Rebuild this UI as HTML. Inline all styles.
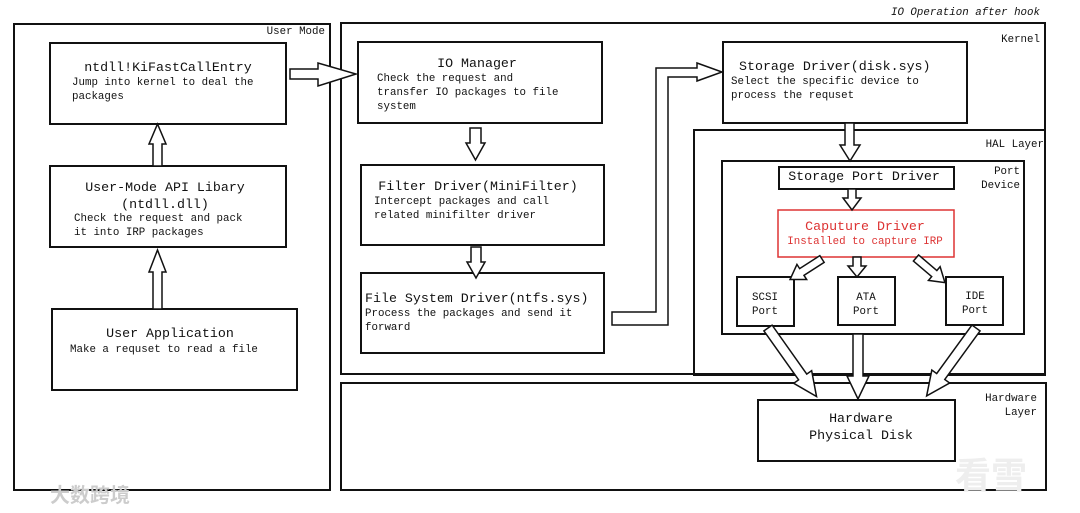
<!DOCTYPE html>
<html><head><meta charset="utf-8"><style>
html,body{margin:0;padding:0;background:#fff;}
svg{display:block;}
text{font-family:"Liberation Mono","DejaVu Sans Mono",monospace;fill:#111;}
.t{font-size:13.3px;}
.d{font-size:10.8px;}
</style></head><body>
<svg width="1080" height="513" viewBox="0 0 1080 513" xmlns="http://www.w3.org/2000/svg">
<g fill="none" stroke="#111" stroke-width="2">
<rect x="14" y="24" width="316" height="466"/>
<rect x="341" y="23" width="704" height="351"/>
<rect x="694" y="130" width="351" height="245"/>
<rect x="722" y="161" width="302" height="173"/>
<rect x="341" y="383" width="705" height="107"/>
<rect x="50" y="43" width="236" height="81"/>
<rect x="50" y="166" width="236" height="81"/>
<rect x="52" y="309" width="245" height="81"/>
<rect x="358" y="42" width="244" height="81"/>
<rect x="361" y="165" width="243" height="80"/>
<rect x="361" y="273" width="243" height="80"/>
<rect x="723" y="42" width="244" height="81"/>
<rect x="779" y="167" width="175" height="22"/>
<rect x="737" y="277" width="57" height="49"/>
<rect x="838" y="277" width="57" height="48"/>
<rect x="946" y="277" width="57" height="48"/>
<rect x="758" y="400" width="197" height="61"/>
</g>
<rect x="778" y="210" width="176" height="47" fill="none" stroke="#d33" stroke-width="1.5"/>
<g fill="#fff" stroke="#111" stroke-width="1.5" stroke-linejoin="miter">
<!-- ntdll -> IO manager -->
<polygon points="290,69 318,69 318,63 356,74 318,86 318,79 290,79"/>
<!-- up arrows -->
<polygon points="153,309 162,309 162,272 166,272 157.5,250 149,272 153,272"/>
<polygon points="153,166 162,166 162,144 166,144 157.5,124 149,144 153,144"/>
<!-- down arrows kernel -->
<polygon points="470,128 481,128 481,143 485,143 475.5,160 466,143 470,143"/>
<polygon points="471,247 481,247 481,262 485,262 476,278 467,262 471,262"/>
<!-- FS -> storage -->
<polygon points="612,312 656,312 656,68 697,68 697,63 722,72 697,81 697,77 668,77 668,325 612,325"/>
<polygon points="845,123 854,123 854,145 860,145 850,161 840,145 845,145"/>
<polygon points="848,189 856,189 856,198 861,198 852,210 843,198 848,198"/>
<polygon points="853,257 861,257 861,266 866,266 857,277 848,266 853,266"/>
<polygon points="853,334 863,334 863,376 869,376 858,399 847,376 853,376"/>
<g transform="translate(822,259) rotate(57.3)"><polygon points="-4,0 4,0 4,24 9,24 0,38 -9,24 -4,24"/></g>
<g transform="translate(916,258) rotate(-49.6)"><polygon points="-4,0 4,0 4,24 9,24 0,38 -9,24 -4,24"/></g>
<g transform="translate(768,328) rotate(-35.3)"><polygon points="-5,0 5,0 5,60 11,60 0,84 -11,60 -5,60"/></g>
<g transform="translate(976,328) rotate(36)"><polygon points="-5,0 5,0 5,60 11,60 0,84 -11,60 -5,60"/></g>
</g>
<text x="1040" y="15" class="d" text-anchor="end" font-style="italic">IO Operation after hook</text>
<text x="325" y="34" class="d" text-anchor="end">User Mode</text>
<text x="1040" y="42" class="d" text-anchor="end">Kernel</text>
<text x="1044" y="147" class="d" text-anchor="end">HAL Layer</text>
<text x="1020" y="174" class="d" text-anchor="end">Port</text>
<text x="1020" y="188" class="d" text-anchor="end">Device</text>
<text x="1037" y="401" class="d" text-anchor="end">Hardware</text>
<text x="1037" y="415" class="d" text-anchor="end">Layer</text>

<text x="168" y="71" class="t" text-anchor="middle">ntdll!KiFastCallEntry</text>
<text x="72" y="85" class="d">Jump into kernel to deal the</text>
<text x="72" y="99" class="d">packages</text>

<text x="165" y="191" class="t" text-anchor="middle">User-Mode API Libary</text>
<text x="165" y="208" class="t" text-anchor="middle">(ntdll.dll)</text>
<text x="74" y="221" class="d">Check the request and pack</text>
<text x="74" y="235" class="d">it into IRP packages</text>

<text x="170" y="337" class="t" text-anchor="middle">User Application</text>
<text x="70" y="352" class="d">Make a requset to read a file</text>

<text x="477" y="67" class="t" text-anchor="middle">IO Manager</text>
<text x="377" y="81" class="d">Check the request and</text>
<text x="377" y="95" class="d">transfer IO packages to file</text>
<text x="377" y="109" class="d">system</text>

<text x="478" y="190" class="t" text-anchor="middle">Filter Driver(MiniFilter)</text>
<text x="374" y="204" class="d">Intercept packages and call</text>
<text x="374" y="218" class="d">related minifilter driver</text>

<text x="365" y="302" class="t">File System Driver(ntfs.sys)</text>
<text x="365" y="316" class="d">Process the packages and send it</text>
<text x="365" y="330" class="d">forward</text>

<text x="739" y="70" class="t">Storage Driver(disk.sys)</text>
<text x="731" y="84" class="d">Select the specific device to</text>
<text x="731" y="98" class="d">process the requset</text>

<text x="864" y="180" class="t" text-anchor="middle">Storage Port Driver</text>
<text x="865" y="230" class="t" text-anchor="middle" style="fill:#d33">Caputure Driver</text>
<text x="865" y="244" class="d" text-anchor="middle" style="fill:#d33">Installed to capture IRP</text>

<text x="765" y="300" class="d" text-anchor="middle">SCSI</text>
<text x="765" y="314" class="d" text-anchor="middle">Port</text>
<text x="866" y="300" class="d" text-anchor="middle">ATA</text>
<text x="866" y="314" class="d" text-anchor="middle">Port</text>
<text x="975" y="299" class="d" text-anchor="middle">IDE</text>
<text x="975" y="313" class="d" text-anchor="middle">Port</text>

<text x="861" y="422" class="t" text-anchor="middle">Hardware</text>
<text x="861" y="439" class="t" text-anchor="middle">Physical Disk</text>

<text x="50" y="502" style="font-family:'Noto Sans CJK SC',sans-serif;font-size:20px;fill:#ccc;font-weight:bold">大数跨境</text>
<text x="955" y="488" style="font-family:'Noto Sans CJK SC',sans-serif;font-size:36px;fill:#eee;font-weight:bold">看雪</text>
</svg>
</body></html>
